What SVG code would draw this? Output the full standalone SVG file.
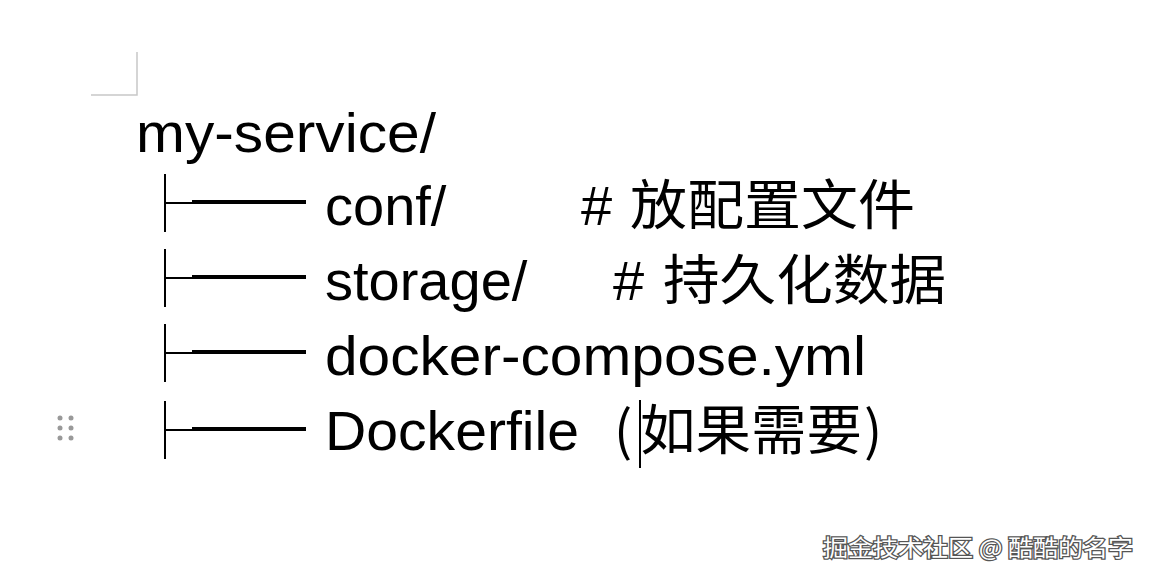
<svg xmlns="http://www.w3.org/2000/svg" width="1152" height="580" viewBox="0 0 1152 580">
<style>
.t{font-family:"Liberation Sans",Arial,sans-serif;font-size:56px;fill:#000}
.c{font-family:"Noto Sans CJK SC",sans-serif;font-size:54px;fill:#000}
.br{stroke:#000;fill:none}
</style>
<rect width="1152" height="580" fill="#fff"/>
<path d="M137 52V95H91" stroke="#c8c8c8" stroke-width="1.5" fill="none"/>
<g fill="#999"><circle cx="60" cy="418" r="2.5"/><circle cx="71" cy="418" r="2.5"/><circle cx="60" cy="428" r="2.5"/><circle cx="71" cy="428" r="2.5"/><circle cx="60" cy="438" r="2.5"/><circle cx="71" cy="438" r="2.5"/></g>
<g id="root"><text class="t" x="136" y="152" textLength="300" lengthAdjust="spacingAndGlyphs">my-service/</text></g>
<g id="connectors">
<g class="br"><path d="M165 174V232M165 203H195" stroke-width="2"/><path d="M192 202H306" stroke-width="4"/></g>
<g class="br"><path d="M165 249V307M165 278H195" stroke-width="2"/><path d="M192 277H306" stroke-width="4"/></g>
<g class="br"><path d="M165 324V382M165 353H195" stroke-width="2"/><path d="M192 352H306" stroke-width="4"/></g>
<g class="br"><path d="M165 401V459M165 430H195" stroke-width="2"/><path d="M192 429H306" stroke-width="4"/></g>
</g>
<g id="conf"><text class="t" x="325" y="225">conf/</text><text class="t" x="581" y="225">#</text><text class="c" x="630" y="225" textLength="285" lengthAdjust="spacingAndGlyphs">放配置文件</text></g>
<g id="storage"><text class="t" x="325" y="300">storage/</text><text class="t" x="613" y="300">#</text><text class="c" x="663" y="300" textLength="283" lengthAdjust="spacingAndGlyphs">持久化数据</text></g>
<g id="compose"><text class="t" x="325" y="375" textLength="541" lengthAdjust="spacingAndGlyphs">docker-compose.yml</text></g>
<g id="dockerfile"><text class="t" x="325" y="450" textLength="254" lengthAdjust="spacingAndGlyphs">Dockerfile</text><text class="c" x="614" y="450">(</text><text class="c" x="640" y="450" textLength="222" lengthAdjust="spacingAndGlyphs">如果需要</text><text class="c" x="864" y="450">)</text><path d="M640 400V468" stroke="#000" stroke-width="2"/></g>
<text x="823" y="556" textLength="310" lengthAdjust="spacingAndGlyphs" font-family="Noto Sans CJK SC,sans-serif" font-size="23" fill="#fff" stroke="#555" stroke-width="2.5" paint-order="stroke">掘金技术社区 @ 酷酷的名字</text>
</svg>
